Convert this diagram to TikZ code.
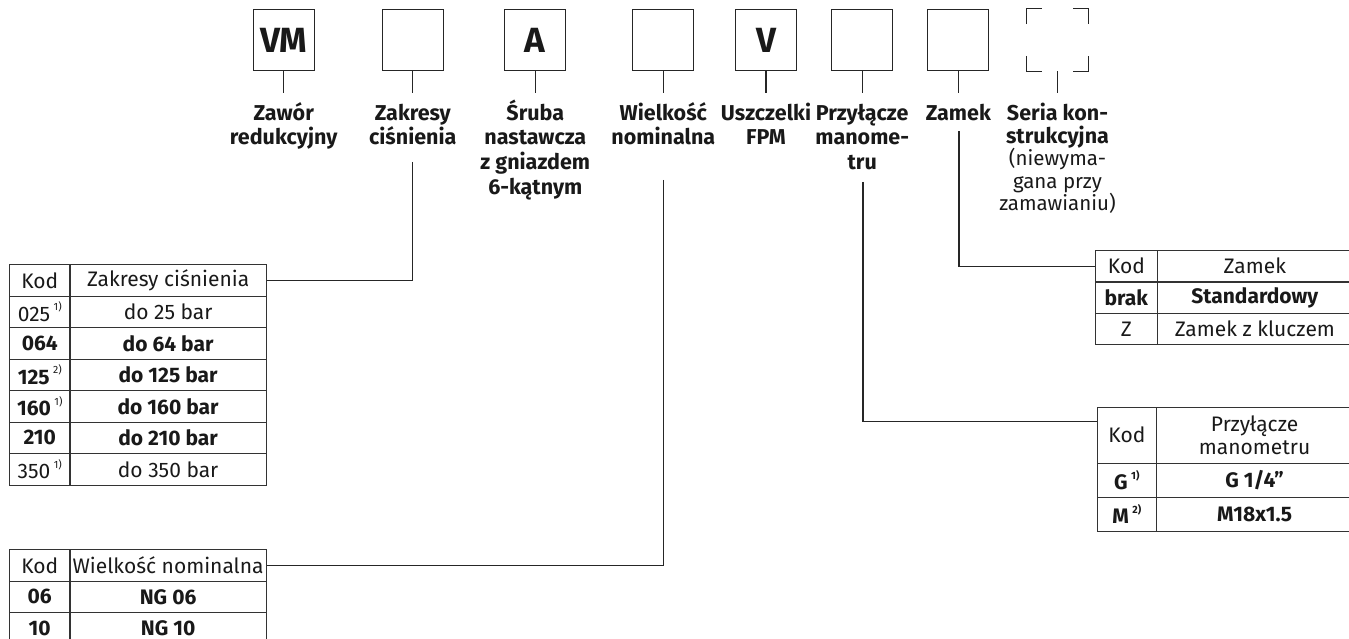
\documentclass[tikz,border=0pt]{standalone}
\usepackage{fontspec}
\setmainfont{Fira Sans}
\newcommand\fnm[1]{\,\raisebox{0.5em}{\fontsize{10.5}{10.5}\selectfont\mdseries #1}}
\newcommand\fnb[1]{\,\raisebox{0.5em}{\fontsize{10.5}{10.5}\selectfont\bfseries #1}}
\begin{document}
\begin{tikzpicture}[x=1pt,y=-1pt,
  ln/.style={draw=black!85, line width=1.1pt},
  codebox/.style={draw=black!85, line width=1.1pt, minimum width=61pt, minimum height=61.5pt, inner sep=0pt, font=\bfseries\fontsize{35}{35}\selectfont, text=black!90},
  lab/.style={anchor=north, align=center, inner sep=0pt, font=\bfseries\fontsize{21.5}{24.8}\selectfont, text=black!90},
  cell/.style={draw=black!80, line width=1.2pt, anchor=north west, inner sep=0pt, align=center, font=\fontsize{21}{23}\selectfont, text=black!90},
  bcell/.style={cell, font=\bfseries\fontsize{21}{23}\selectfont},
]
\useasboundingbox (0,0) rectangle (1349,639);
\clip (0,0) rectangle (1349,639);
% code boxes
\node[codebox] (b1) at (283.7,40) {VM};
\node[codebox] (b2) at (412.8,40) {};
\node[codebox] (b3) at (535.3,40) {A};
\node[codebox] (b4) at (663.3,40) {};
\node[codebox] (b5) at (766,40) {V};
\node[codebox] (b6) at (862.2,40) {};
\node[codebox] (b7) at (958.3,40) {};
\node[codebox, draw=none] (b8) at (1057.5,40) {};
\draw[ln] ([yshift=-15.5pt]b8.north west) -- (b8.north west) -- ([xshift=15.5pt]b8.north west);
\draw[ln] ([xshift=-15.5pt]b8.north east) -- (b8.north east) -- ([yshift=-15.5pt]b8.north east);
\draw[ln] ([yshift=15.5pt]b8.south west) -- (b8.south west) -- ([xshift=15.5pt]b8.south west);
\draw[ln] ([xshift=-15.5pt]b8.south east) -- (b8.south east) -- ([yshift=15.5pt]b8.south east);
% labels
\node[lab] (l1) at (283.7,93) {\rule{0pt}{27pt}Zawór\\redukcyjny};
\node[lab] (l2) at (412.8,93) {\rule{0pt}{27pt}Zakresy\\ciśnienia};
\node[lab] (l3) at (535.3,93) {\rule{0pt}{27pt}Śruba\\nastawcza\\z gniazdem\\6-kątnym};
\node[lab] (l4) at (663.3,93) {\rule{0pt}{27pt}Wielkość\\nominalna};
\node[lab] (l5) at (766,93) {\rule{0pt}{27pt}Uszczelki\\FPM};
\node[lab] (l6) at (862.2,93) {\rule{0pt}{27pt}Przyłącze\\manome-\\tru};
\node[lab] (l7) at (958.3,93) {\rule{0pt}{27pt}Zamek};
\node[lab] (l8) at (1057.5,93) {\rule{0pt}{27pt}Seria kon-\\[-2pt]strukcyjna\\[-2.5pt]\mdseries\fontsize{20.5}{22}\selectfont (niewyma-\\[-2pt]\mdseries\fontsize{20.5}{22}\selectfont gana przy\\[-2pt]\mdseries\fontsize{20.5}{22}\selectfont zamawianiu)};
\foreach \i in {1,...,8} {\draw[ln] (b\i.south) -- (l\i.north);}
% table 1
\node[cell, minimum width=60.3pt, minimum height=31.5pt] (t1a) at (9,264) {Kod};
\node[cell, minimum width=196.4pt, minimum height=31.5pt] (t1b) at (69.3,264) {Zakresy ciśnienia};
\node[cell, minimum width=60.3pt, minimum height=31.5pt] (t1c) at (9,295.5) {025\fnm{1)}};
\node[cell, minimum width=196.4pt, minimum height=31.5pt] (t1d) at (69.3,295.5) {do 25 bar};
\node[bcell, minimum width=60.3pt, minimum height=31.5pt] (t1e) at (9,327) {064};
\node[bcell, minimum width=196.4pt, minimum height=31.5pt] (t1f) at (69.3,327) {do 64 bar};
\node[bcell, minimum width=60.3pt, minimum height=31.5pt] (t1g) at (9,358.5) {125\fnm{2)}};
\node[bcell, minimum width=196.4pt, minimum height=31.5pt] (t1h) at (69.3,358.5) {do 125 bar};
\node[bcell, minimum width=60.3pt, minimum height=31.5pt] (t1i) at (9,390) {160\fnm{1)}};
\node[bcell, minimum width=196.4pt, minimum height=31.5pt] (t1j) at (69.3,390) {do 160 bar};
\node[bcell, minimum width=60.3pt, minimum height=31.5pt] (t1k) at (9,421.5) {210};
\node[bcell, minimum width=196.4pt, minimum height=31.5pt] (t1l) at (69.3,421.5) {do 210 bar};
\node[cell, minimum width=60.3pt, minimum height=31.5pt] (t1m) at (9,453) {350\fnm{1)}};
\node[cell, minimum width=196.4pt, minimum height=31.5pt] (t1n) at (69.3,453) {do 350 bar};
% table 2
\node[cell, minimum width=60.3pt, minimum height=31.5pt] (t2a) at (9,549) {Kod};
\node[cell, minimum width=196.4pt, minimum height=31.5pt] (t2b) at (69.3,549) {Wielkość nominalna};
\node[bcell, minimum width=60.3pt, minimum height=31.5pt] (t2c) at (9,580.5) {06};
\node[bcell, minimum width=196.4pt, minimum height=31.5pt] (t2d) at (69.3,580.5) {NG 06};
\node[bcell, minimum width=60.3pt, minimum height=31.5pt] (t2e) at (9,612) {10};
\node[bcell, minimum width=196.4pt, minimum height=31.5pt] (t2f) at (69.3,612) {NG 10};
% table 3
\node[cell, minimum width=61.5pt, minimum height=31.3pt] (t3a) at (1095,250) {Kod};
\node[cell, minimum width=195.5pt, minimum height=31.3pt] (t3b) at (1156.5,250) {Zamek};
\node[bcell, minimum width=61.5pt, minimum height=31.3pt] (t3c) at (1095,281.3) {brak};
\node[bcell, minimum width=195.5pt, minimum height=31.3pt] (t3d) at (1156.5,281.3) {Standardowy};
\node[cell, minimum width=61.5pt, minimum height=31.3pt] (t3e) at (1095,312.6) {Z};
\node[cell, minimum width=195.5pt, minimum height=31.3pt] (t3f) at (1156.5,312.6) {Zamek z kluczem};
% table 4
\node[cell, minimum width=59.5pt, minimum height=56pt] (t4a) at (1096.5,406.5) {Kod};
\node[cell, minimum width=196pt, minimum height=56pt] (t4b) at (1156,406.5) {Przyłącze\\manometru};
\node[bcell, minimum width=59.5pt, minimum height=34pt] (t4c) at (1096.5,462.5) {G\fnb{1)}};
\node[bcell, minimum width=196pt, minimum height=34pt] (t4d) at (1156,462.5) {G 1/4"};
\node[bcell, minimum width=59.5pt, minimum height=34pt] (t4e) at (1096.5,496.5) {M\fnb{2)}};
\node[bcell, minimum width=196pt, minimum height=34pt] (t4f) at (1156,496.5) {M18x1.5};
% connectors
\coordinate (z2) at (412.5,162);
\coordinate (z4) at (663.3,180);
\coordinate (z6) at (863,182);
\coordinate (z7) at (959,131.5);
\draw[ln] (z2) |- (t1b.east);
\draw[ln] (z4) |- (t2b.east);
\draw[ln] (z6) |- ([yshift=-15pt]t4a.north west);
\draw[ln] (z7) |- (t3a.west);
\end{tikzpicture}
\end{document}
